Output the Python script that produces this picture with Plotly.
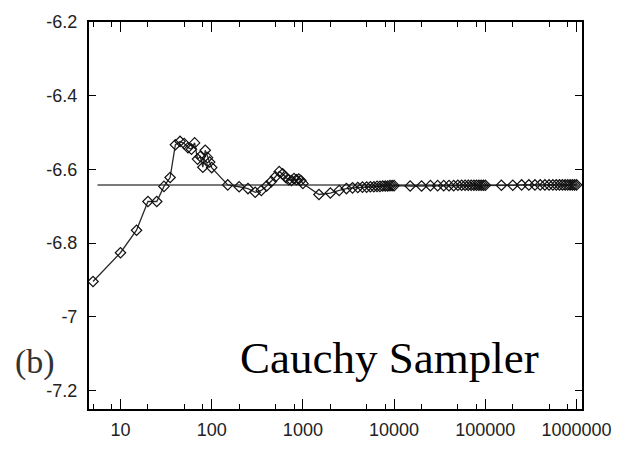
import plotly.graph_objects as go

# sample counts (x) and running estimate (y)
n_samples = [5, 10, 15, 20, 25, 30, 35, 40, 45, 50, 55, 60, 65, 70, 75, 80, 85, 90, 95, 100,
             150, 200, 250, 300, 350, 400, 450, 500, 550, 600, 650, 700, 750, 800, 850, 900, 950, 1000,
             1500, 2000, 2500, 3000, 3500, 4000, 4500, 5000, 5500, 6000, 6500, 7000, 7500, 8000, 8500, 9000, 9500, 10000,
             15000, 20000, 25000, 30000, 35000, 40000, 45000, 50000, 55000, 60000, 65000, 70000, 75000, 80000, 85000, 90000, 95000, 100000,
             150000, 200000, 250000, 300000, 350000, 400000, 450000, 500000, 550000, 600000, 650000, 700000, 750000, 800000, 850000, 900000, 950000, 1000000]
estimate = [-6.904, -6.826, -6.765, -6.687, -6.687, -6.646, -6.622, -6.533, -6.524, -6.530,
            -6.541, -6.545, -6.528, -6.572, -6.565, -6.594, -6.548, -6.568, -6.580, -6.595,
            -6.642, -6.647, -6.652, -6.662, -6.657, -6.645, -6.633, -6.620, -6.606, -6.612,
            -6.622, -6.628, -6.630, -6.625, -6.628, -6.626, -6.630, -6.638,
            -6.668, -6.664, -6.657, -6.652, -6.650, -6.649, -6.648, -6.648, -6.647, -6.647,
            -6.646, -6.646, -6.645, -6.645, -6.645, -6.644, -6.644, -6.644,
            -6.645, -6.645, -6.644, -6.644, -6.644, -6.644, -6.644, -6.643, -6.643, -6.643,
            -6.643, -6.643, -6.643, -6.643, -6.643, -6.643, -6.643, -6.643,
            -6.643, -6.643, -6.642, -6.642, -6.642, -6.642, -6.642, -6.642, -6.642, -6.642,
            -6.642, -6.642, -6.642, -6.642, -6.642, -6.642, -6.642, -6.642]

ref_x = [5.6, 1000000]
ref_y = [-6.642, -6.642]

x_tickvals = [10, 100, 1000, 10000, 100000, 1000000]
x_ticktext = ["10", "100", "1000", "10000", "100000", "1000000"]
x_minor = [v * m for v in [1, 10, 100, 1000, 10000, 100000] for m in [2, 5, 8]] + [5, 8]
y_tickvals = [-6.2, -6.4, -6.6, -6.8, -7.0, -7.2]
y_ticktext = ["-6.2", "-6.4", "-6.6", "-6.8", "-7", "-7.2"]

fig = go.Figure()
fig.add_trace(go.Scatter(x=ref_x, y=ref_y, mode="lines",
                         line=dict(color="#7a7a7a", width=2), hoverinfo="skip"))
fig.add_trace(go.Scatter(x=n_samples, y=estimate, mode="lines+markers",
                         line=dict(color="#2a2a2a", width=1.3),
                         marker=dict(symbol="diamond-open", size=8, color="#111111",
                                     line=dict(width=1.2, color="#111111"))))

fig.add_annotation(text="Cauchy Sampler", xref="paper", yref="paper",
                   x=(240 - 89) / 501, y=(423 - 370) / 402, xanchor="left", yanchor="middle",
                   showarrow=False,
                   font=dict(family="Liberation Serif, Times New Roman, serif", size=45, color="#000000"))
fig.add_annotation(text="(b)", xref="paper", yref="paper",
                   x=(34 - 89) / 501, y=(423 - 374) / 402, xanchor="center", yanchor="middle",
                   showarrow=False,
                   font=dict(family="Liberation Serif, Times New Roman, serif", size=34, color="#333333"))

axis_font = dict(family="Liberation Sans, Arial, sans-serif", size=18, color="#222222")
fig.update_xaxes(type="log", range=[0.655, 6.06],
                 tickvals=x_tickvals, ticktext=x_ticktext,
                 ticks="inside", ticklen=10, tickwidth=1.2, tickcolor="#000",
                 minor=dict(tickvals=x_minor, ticks="inside", ticklen=5, tickwidth=1.2, tickcolor="#000"),
                 showline=True, linecolor="#000", linewidth=2, mirror="allticks",
                 showgrid=False, zeroline=False, tickfont=axis_font, ticklabelstandoff=3)
fig.update_yaxes(range=[-7.25, -6.2],
                 tickvals=y_tickvals, ticktext=y_ticktext,
                 ticks="inside", ticklen=7, tickwidth=1.2, tickcolor="#000",
                 showline=True, linecolor="#000", linewidth=2, mirror="allticks",
                 showgrid=False, zeroline=False, tickfont=axis_font, ticklabelstandoff=6)

fig.update_layout(width=623, height=452, showlegend=False,
                  margin=dict(l=89, r=33, t=21, b=29),
                  plot_bgcolor="white", paper_bgcolor="white")

fig.write_html("out.html")
